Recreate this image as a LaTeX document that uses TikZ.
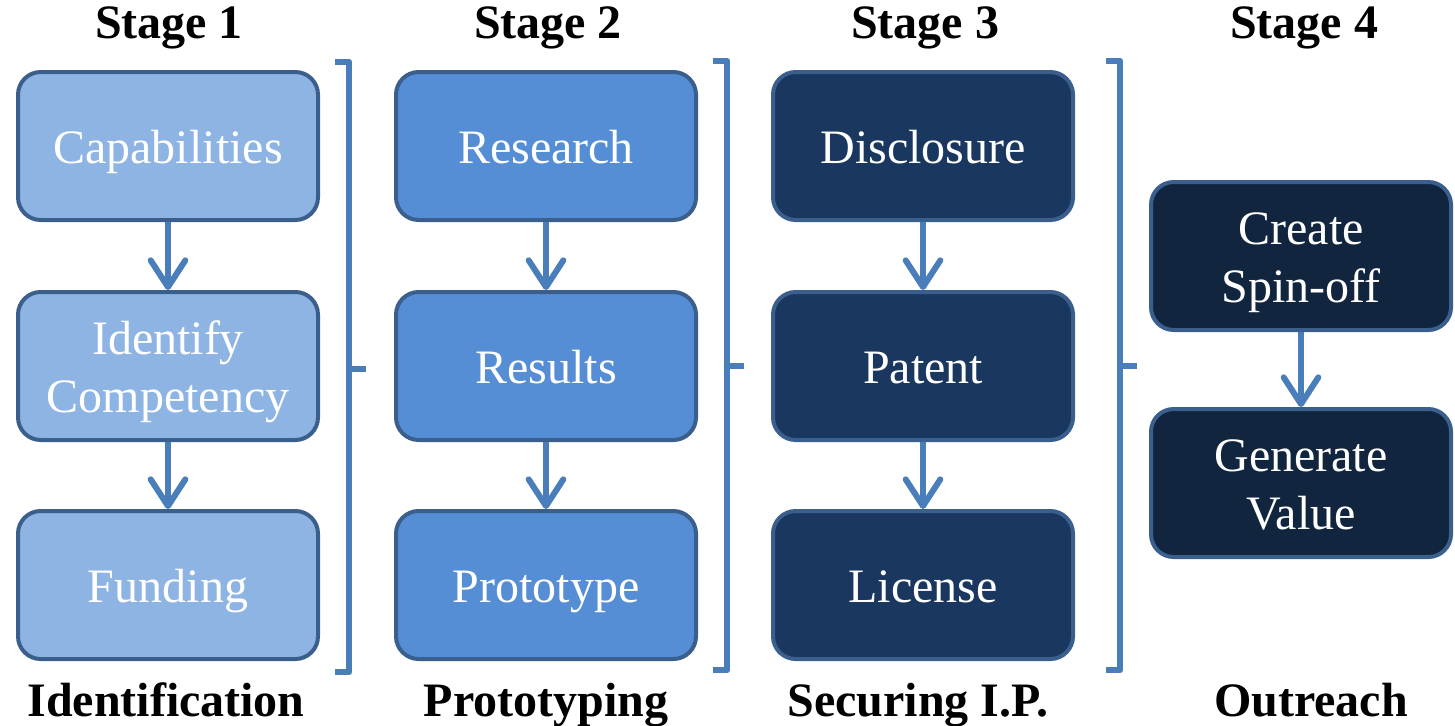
\documentclass[tikz,border=0pt]{standalone}
\usepackage{fontspec}
\setmainfont{Liberation Serif}
\usetikzlibrary{arrows.meta}
\definecolor{bord}{HTML}{3A5F8C}
\definecolor{arrc}{HTML}{4A7EBB}
\definecolor{fillA}{HTML}{8EB4E3}
\definecolor{fillB}{HTML}{558ED5}
\definecolor{fillC}{HTML}{1A375F}
\definecolor{fillD}{HTML}{12253F}
\newcommand\tpst{\vrule height 34pt depth 0pt width 0pt}
\newcommand\btst{\vrule height 0pt depth 8pt width 0pt}
\tikzset{
  box/.style={draw=bord, line width=3pt, rounded corners=17pt, minimum width=225pt, minimum height=111pt,
    text=white, align=center, inner sep=0pt, font=\fontsize{36}{43}\selectfont},
  head/.style={font=\fontsize{36}{41}\selectfont\bfseries, text=black, inner sep=0pt},
  arr/.style={draw=arrc, line width=4.5pt, -{Straight Barb[length=20pt, width=26pt, round]}},
  brk/.style={draw=arrc, line width=5pt, line join=round}
}
\begin{document}
\begin{tikzpicture}[x=0.75pt, y=-0.75pt]
\useasboundingbox (0,0) rectangle (1455,725);
% headings
\node[head] (h1) at (169,28) {Stage 1};
\node[head] (h2) at (548,28) {Stage 2};
\node[head] (h3) at (925,28) {Stage 3};
\node[head] (h4) at (1304,28) {Stage 4};
\node[head, anchor=base] (f1) at (166,716) {Identification};
\node[head, anchor=base] (f2) at (546,716) {Prototyping};
\node[head, anchor=base] (f3) at (918,716) {Securing I.P.};
\node[head, anchor=base] (f4) at (1311,716) {Outreach};
% stage 1
\node[box, fill=fillA] (a1) at (168,146) {\tpst Capabilities\btst};
\node[box, fill=fillA] (a2) at (168,366) {\tpst Identify\\Competency\btst};
\node[box, fill=fillA] (a3) at (168,585) {\tpst Funding\btst};
% stage 2
\node[box, fill=fillB] (b1) at (546,146) {\tpst Research\btst};
\node[box, fill=fillB] (b2) at (546,366) {\tpst Results\btst};
\node[box, fill=fillB] (b3) at (546,585) {\tpst Prototype\btst};
% stage 3
\node[box, fill=fillC] (c1) at (923,146) {\tpst Disclosure\btst};
\node[box, fill=fillC] (c2) at (923,366) {\tpst Patent\btst};
\node[box, fill=fillC] (c3) at (923,585) {\tpst License\btst};
% stage 4
\node[box, fill=fillD] (d1) at (1301,256) {\tpst Create\\Spin-off\btst};
\node[box, fill=fillD] (d2) at (1301,483) {\tpst Generate\\Value\btst};
% arrows
\draw[arr] (a1.south) -- (a2.north);
\draw[arr] (a2.south) -- (a3.north);
\draw[arr] (b1.south) -- (b2.north);
\draw[arr] (b2.south) -- (b3.north);
\draw[arr] (c1.south) -- (c2.north);
\draw[arr] (c2.south) -- (c3.north);
\draw[arr] (d1.south) -- (d2.north);
% brackets
\draw[brk] (335,62) -- (349,62) -- (349,672) -- (335,672);
\draw[brk] (349,369) -- (366,369);
\draw[brk] (713,61) -- (727,61) -- (727,670) -- (713,670);
\draw[brk] (727,366) -- (744,366);
\draw[brk] (1106,61) -- (1120,61) -- (1120,670) -- (1106,670);
\draw[brk] (1120,366) -- (1137,366);
\end{tikzpicture}
\end{document}
